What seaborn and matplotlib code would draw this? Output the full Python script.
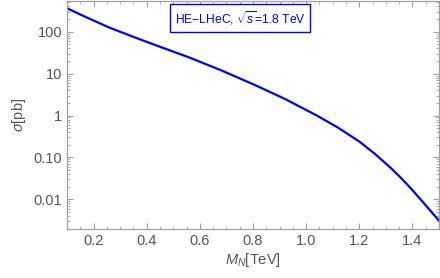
import numpy as np
import pandas as pd
import matplotlib
matplotlib.use("Agg")
import matplotlib.pyplot as plt
import seaborn as sns
from matplotlib.ticker import MultipleLocator, LogLocator, FixedLocator, NullFormatter

mass_tev = [0.10, 0.17, 0.26, 0.35, 0.45, 0.56, 0.68, 0.81, 0.92, 1.04,
            1.12, 1.20, 1.26, 1.32, 1.36, 1.40, 1.45, 1.50]
sigma_pb = [363, 225, 125, 75.2, 43.6, 24.3, 12.0, 5.25, 2.49, 1.0,
            0.513, 0.240, 0.120, 0.055, 0.031, 0.0166, 0.0072, 0.0031]
ytick_vals = [0.01, 0.1, 1, 10, 100]
ytick_labels = ["0.01", "0.10", "1", "10", "100"]
xtick_vals = [0.2, 0.4, 0.6, 0.8, 1.0, 1.2, 1.4]
xtick_labels = ["0.2", "0.4", "0.6", "0.8", "1.0", "1.2", "1.4"]
legend_text = r"HE$-$LHeC, $\sqrt{s}$=1.8 TeV"

sns.set_style("ticks")
plt.rcParams["font.family"] = ["Liberation Sans", "DejaVu Sans"]
plt.rcParams["mathtext.fontset"] = "custom"
plt.rcParams["mathtext.rm"] = "Liberation Sans"
plt.rcParams["mathtext.it"] = "Liberation Sans:italic"

gray = "#555555"
spine_gray = "#a0a0a0"

df = pd.DataFrame({"M": mass_tev, "sigma": sigma_pb})

fig = plt.figure(figsize=(4.4, 2.78), dpi=100)
ax = fig.add_axes([67 / 440, 49 / 278, 372 / 440, 228 / 278])
sns.lineplot(data=df, x="M", y="sigma", ax=ax, color=(0, 0, 1), lw=1.6)
ax.set_yscale("log")
ax.set_xlim(0.1, 1.5)
ax.set_ylim(0.00196, 540)

ax.xaxis.set_major_locator(FixedLocator(xtick_vals))
ax.set_xticklabels(xtick_labels)
ax.xaxis.set_minor_locator(MultipleLocator(0.05))
ax.yaxis.set_major_locator(FixedLocator(ytick_vals))
ax.set_yticklabels(ytick_labels)
ax.yaxis.set_minor_locator(LogLocator(base=10, subs=np.arange(2, 10)))
ax.yaxis.set_minor_formatter(NullFormatter())

ax.tick_params(which="both", direction="in", top=True, right=True,
               colors=spine_gray, labelcolor=gray, labelsize=10.5)
ax.tick_params(which="major", length=4, width=0.8)
ax.tick_params(which="minor", length=2, width=0.6)
for s in ax.spines.values():
    s.set_color(spine_gray)
    s.set_linewidth(0.9)

ax.set_xlabel(r"$M_N$[TeV]", color=gray, fontsize=10.5, labelpad=2)
ax.set_ylabel(r"$\sigma$[pb]", color=gray, fontsize=10.5, labelpad=4)

ax.text(0.465, 0.925, legend_text, transform=ax.transAxes, color=(0, 0, 1),
        fontsize=8.7, ha="center", va="center",
        bbox=dict(boxstyle="square,pad=0.4", fc="white", ec=(0, 0, 1), lw=1.0))

fig.savefig("out.png", dpi=100)
